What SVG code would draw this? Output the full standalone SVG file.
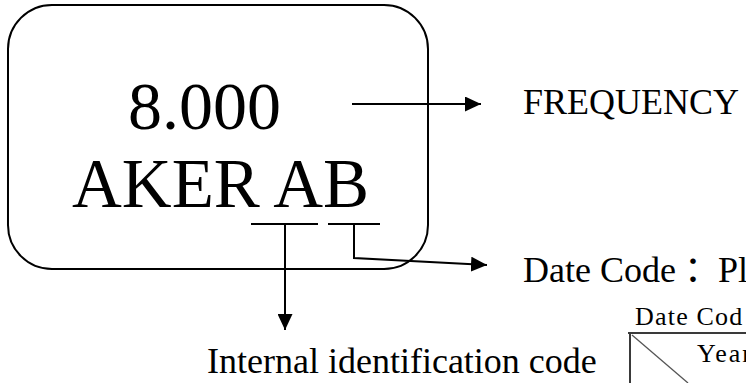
<svg xmlns="http://www.w3.org/2000/svg" width="746" height="383" viewBox="0 0 746 383">
<style>
.ln{fill:none;stroke:#000;stroke-width:2}
.t{font-family:"Liberation Serif","Times New Roman","Noto Sans CJK SC",serif;fill:#000}
.tb{fill:none;stroke:#3a3a3a;stroke-width:2}
</style>
<defs>
<marker id="ah" markerUnits="userSpaceOnUse" markerWidth="16" markerHeight="15" refX="16" refY="7.5" orient="auto">
<path d="M0,0 L16,7.5 L0,15 z" fill="#000"/>
</marker>
</defs>
<rect width="746" height="383" fill="#fff"/>
<g id="chip">
<rect x="8" y="5" width="420" height="264" rx="44" ry="44" class="ln"/>
<text class="t" x="128" y="129" font-size="68">8.000</text>
<text class="t" x="72" y="207" font-size="69">AKER AB</text>
</g>
<g id="connectors">
<line class="ln" x1="352" y1="104" x2="481" y2="104" marker-end="url(#ah)"/>
<line class="ln" x1="251" y1="224" x2="318" y2="224"/>
<line class="ln" x1="328" y1="224" x2="380" y2="224"/>
<line class="ln" x1="285" y1="224" x2="285" y2="330" marker-end="url(#ah)"/>
<polyline class="ln" points="354,224 354,258 487,265" marker-end="url(#ah)"/>
</g>
<g id="frequency">
<text class="t" x="523" y="114" font-size="36">FREQUENCY</text>
</g>
<g id="datecode">
<text class="t" x="523" y="282" font-size="36">Date Code<tspan dx="8">：</tspan><tspan dx="-2">Pl</tspan></text>
</g>
<g id="internal">
<text class="t" x="207" y="373" font-size="36">Internal identification code</text>
</g>
<g id="table">
<text class="t" x="635" y="325" font-size="26" letter-spacing="1.2" fill="#1c1c3c">Date Cod</text>
<line class="tb" x1="628" y1="333" x2="746" y2="333"/>
<line class="tb" x1="630" y1="333" x2="630" y2="383"/>
<line x1="632" y1="335" x2="688" y2="383" stroke="#555" stroke-width="1.3"/>
<text class="t" x="697" y="362" font-size="26" letter-spacing="2" fill="#1c1c3c">Year</text>
</g>
</svg>
